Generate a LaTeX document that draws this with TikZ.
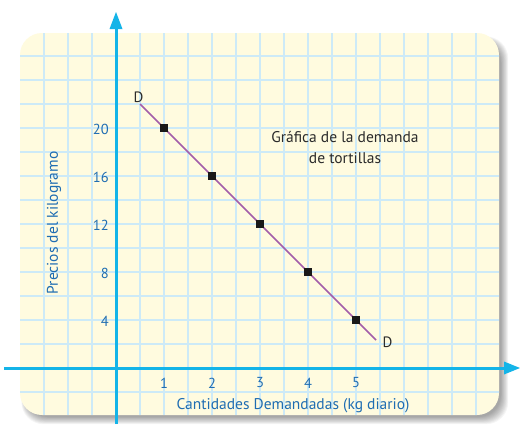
\documentclass[tikz,border=0pt]{standalone}
\usepackage{fontspec}
\setmainfont{PT Sans}
\definecolor{cream}{HTML}{FFFBDF}
\definecolor{gridc}{HTML}{CDEAF7}
\definecolor{axisc}{HTML}{14B4E8}
\definecolor{lblc}{HTML}{1F6DB2}
\definecolor{curvec}{HTML}{A35DA9}
\definecolor{txtc}{HTML}{2B2B2B}
\begin{document}
\begin{tikzpicture}[x=1pt,y=-1pt,
  gridline/.style={gridc,line width=1.4pt},
  axisline/.style={axisc,line width=3pt},
  tip/.style={fill=axisc,draw=none},
  tick/.style={lblc,font=\fontsize{14.5}{16}\selectfont,inner sep=0pt},
  alabel/.style={lblc,font=\fontsize{15.5}{18}\selectfont,inner sep=0pt},
  dlabel/.style={txtc,font=\fontsize{15}{16}\selectfont,inner sep=0pt},
  mk/.style={fill=black!90,minimum size=8pt,inner sep=0pt,draw=none},
  dline/.style={curvec,line width=1.6pt}]
\useasboundingbox (0,0) rectangle (520,424);
\fill[white] (0,0) rectangle (520,424);
% shadow
\foreach \s in {0,1,...,9}{
  \fill[black,opacity=0.04,rounded corners=22pt]
    (20+6-\s*0.5,33+8-\s*0.5) rectangle (499+2+\s*0.8,415+2+\s*0.8);
}
% panel
\fill[cream,rounded corners=22pt] (20,33) rectangle (499,415);
\begin{scope}
\clip[rounded corners=22pt] (20,33) rectangle (499,415);
\foreach \gx in {44,68,...,476} \draw[gridline] (\gx,33) -- (\gx,415);
\foreach \gy in {56,80,...,392} \draw[gridline] (20,\gy) -- (499,\gy);
\end{scope}
% axes
\coordinate (xs) at (4,368);
\coordinate (xe) at (506,368);
\coordinate (ys) at (116,424);
\coordinate (ye) at (116,29);
\draw[axisline] (xs) -- (xe);
\draw[axisline] (ys) -- (ye);
\fill[tip] (520,368) -- (504,361.5) -- (504,374.5) -- cycle;
\fill[tip] (116,12) -- (109.5,29) -- (122.5,29) -- cycle;
% ticks
\node[tick,anchor=east] (y20) at (109,129) {20};
\node[tick,anchor=east] (y16) at (109,177) {16};
\node[tick,anchor=east] (y12) at (109,225) {12};
\node[tick,anchor=east] (y8) at (109,273) {8};
\node[tick,anchor=east] (y4) at (109,321) {4};
\node[tick] (x1) at (164,383) {1};
\node[tick] (x2) at (212,383) {2};
\node[tick] (x3) at (260,383) {3};
\node[tick] (x4) at (308,383) {4};
\node[tick] (x5) at (356,383) {5};
% axis labels
\node[alabel,rotate=90] (ylab) at (54,223) {Precios del kilogramo};
\node[alabel] (xlab) at (293,406) {Cantidades Demandadas (kg diario)};
% demand curve
\coordinate (ds) at (140,104);
\coordinate (de) at (376,340);
\draw[dline] (ds) -- (de);
\node[mk] (p1) at (164,128) {};
\node[mk] (p2) at (212,176) {};
\node[mk] (p3) at (260,224) {};
\node[mk] (p4) at (308,272) {};
\node[mk] (p5) at (356,320) {};
\node[dlabel] (dtop) at (138.5,97) {D};
\node[dlabel] (dbot) at (387.5,342) {D};
% title
\node[txtc,font=\fontsize{15.5}{21.5}\selectfont,align=center,inner sep=0pt] (title) at (345,147.5) {Gráfica de la demanda\\de tortillas};
\end{tikzpicture}
\end{document}
